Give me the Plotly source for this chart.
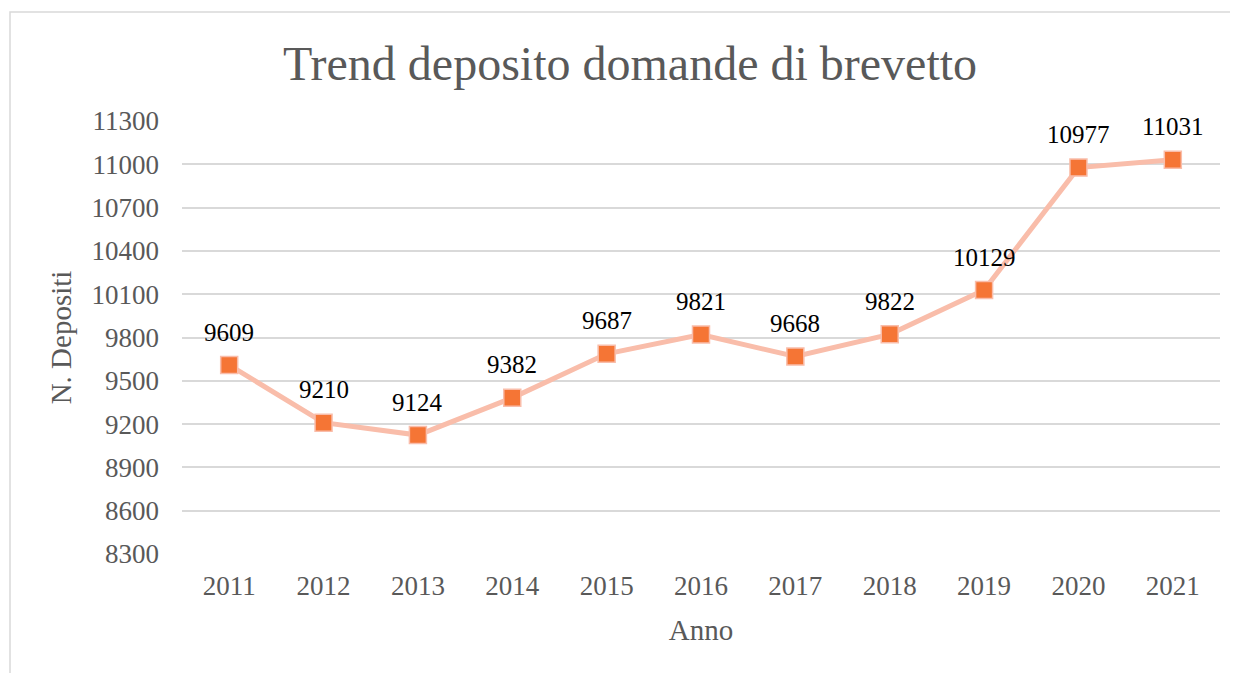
import plotly.graph_objects as go

years = ["2011", "2012", "2013", "2014", "2015", "2016", "2017", "2018", "2019", "2020", "2021"]
deposits = [9609, 9210, 9124, 9382, 9687, 9821, 9668, 9822, 10129, 10977, 11031]
y_ticks = [8300, 8600, 8900, 9200, 9500, 9800, 10100, 10400, 10700, 11000, 11300]

FONT = "Liberation Serif, Times New Roman, serif"
GREY = "#595959"

W, H = 1238, 673
# page body has an 8px margin; plot area in screen px: x 182..1220, y 121..554
L, R, T, B = 174, W - 1212, 113, H - 546

fig = go.Figure()
fig.add_trace(go.Scatter(
    x=years, y=deposits,
    mode="lines+markers",
    line=dict(color="#F9BDAA", width=5),
    marker=dict(symbol="square", size=17, color="#F57535",
                line=dict(color="#F9BDAA", width=1.5)),
    cliponaxis=False,
    hoverinfo="x+y",
))

annotations = [
    dict(x=i, y=v, xref="x", yref="y", text=str(v), showarrow=False,
         yanchor="middle", xanchor="center", yshift=33,
         font=dict(family=FONT, size=25, color="#000000"))
    for i, v in enumerate(deposits)
]

pw = W - L - R
ph = H - T - B
fig.update_layout(
    width=W, height=H,
    margin=dict(l=L, r=R, t=T, b=B),
    paper_bgcolor="white", plot_bgcolor="white",
    font=dict(family=FONT, color=GREY),
    showlegend=False,
    title=dict(text="Trend deposito domande di brevetto",
               font=dict(family=FONT, size=48, color=GREY),
               x=622 / W, xanchor="center", xref="container",
               y=1 - 55 / H, yanchor="middle"),
    xaxis=dict(
        type="category",
        categoryorder="array", categoryarray=years,
        range=[-0.5, len(years) - 0.5], autorange=False,
        showgrid=False, zeroline=False, showline=False,
        ticks="", ticklabelstandoff=13,
        tickfont=dict(size=27, color=GREY),
        title=dict(text="Anno", font=dict(size=29, color=GREY), standoff=19),
    ),
    yaxis=dict(
        range=[8300, 11300],
        tickvals=y_ticks,
        ticktext=[str(v) for v in y_ticks],
        showgrid=True, gridcolor="#D9D9D9", gridwidth=1.5,
        zeroline=False, showline=False, ticks="",
        ticklabelstandoff=22,
        tickfont=dict(size=27, color=GREY),
        title=dict(text="N. Depositi", font=dict(size=29, color=GREY), standoff=11),
    ),
    annotations=annotations,
    shapes=[dict(type="rect", xref="paper", yref="paper",
                 x0=(2 - L) / pw, x1=1.2, y0=-0.6, y1=(ph + T - 4) / ph,
                 line=dict(color="#D9D9D9", width=1.5), fillcolor="rgba(0,0,0,0)",
                 layer="below")],
)

fig.write_html("out.html")
